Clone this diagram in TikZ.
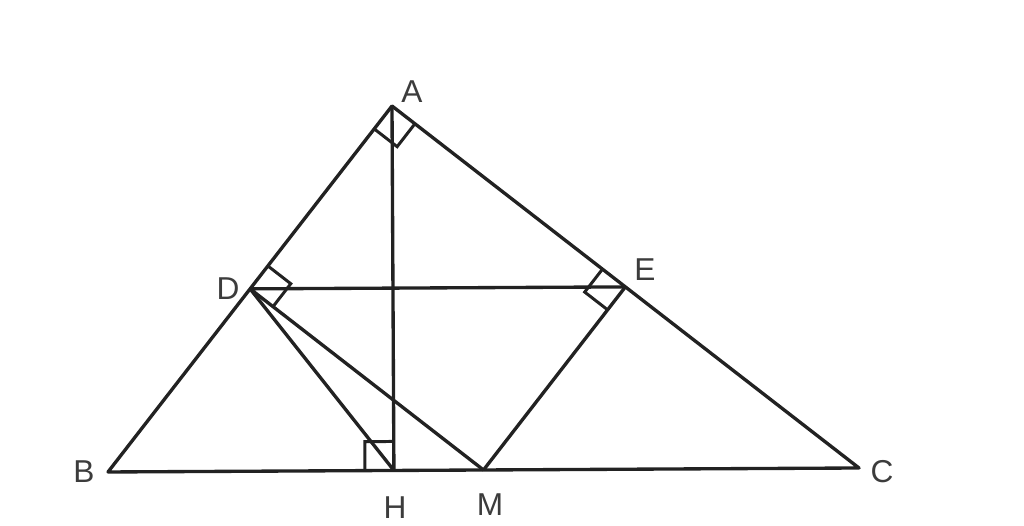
\documentclass[tikz,border=0pt]{standalone}
\usepackage{fontspec}
\setmainfont{Liberation Sans}
\usetikzlibrary{calc, angles}
\definecolor{lineclr}{HTML}{222222}
\definecolor{labelclr}{HTML}{3C3C3C}

\begin{document}
\begin{tikzpicture}[
    seg/.style={draw=lineclr, line width=1.9pt, line join=round},
    rmark/.style={draw=lineclr, line width=1.7pt, angle radius=0.58cm},
    lbl/.style={text=labelclr, font=\fontsize{18}{20}\selectfont, inner sep=2pt}
    ]
    \useasboundingbox (0,0) rectangle (20.48,10.52);

    % Define the vertices
    \coordinate (A) at (7.84,8.40);
    \coordinate (B) at (2.16,1.08);
    \coordinate (C) at (17.18,1.16);
    \coordinate (M) at ($(B)!0.5!(C)$);
    \coordinate (H) at ($(B)!(A)!(C)$);
    \coordinate (D) at ($(A)!(M)!(B)$);
    \coordinate (E) at ($(A)!(M)!(C)$);

    % Draw the triangle and the segments
    \draw[seg] (A) -- (B) -- (C) -- cycle;
    \draw[seg] (A) -- (H);
    \draw[seg] (D) -- (E);
    \draw[seg] (D) -- (H);
    \draw[seg] (D) -- (M);
    \draw[seg] (E) -- (M);

    % Right angle marks
    \pic[rmark] {right angle=B--A--C};
    \pic[rmark] {right angle=A--D--M};
    \pic[rmark] {right angle=M--E--A};
    \pic[rmark] {right angle=B--H--A};

    % Labels
    \node[lbl] (lA) at (8.24,8.68) {A};
    \node[lbl] (lB) at (1.68,1.08) {B};
    \node[lbl] (lC) at (17.64,1.08) {C};
    \node[lbl] (lD) at (4.56,4.74) {D};
    \node[lbl] (lE) at (12.90,5.12) {E};
    \node[lbl] (lH) at (7.90,0.36) {H};
    \node[lbl] (lM) at (9.80,0.42) {M};

\end{tikzpicture}
\end{document}
